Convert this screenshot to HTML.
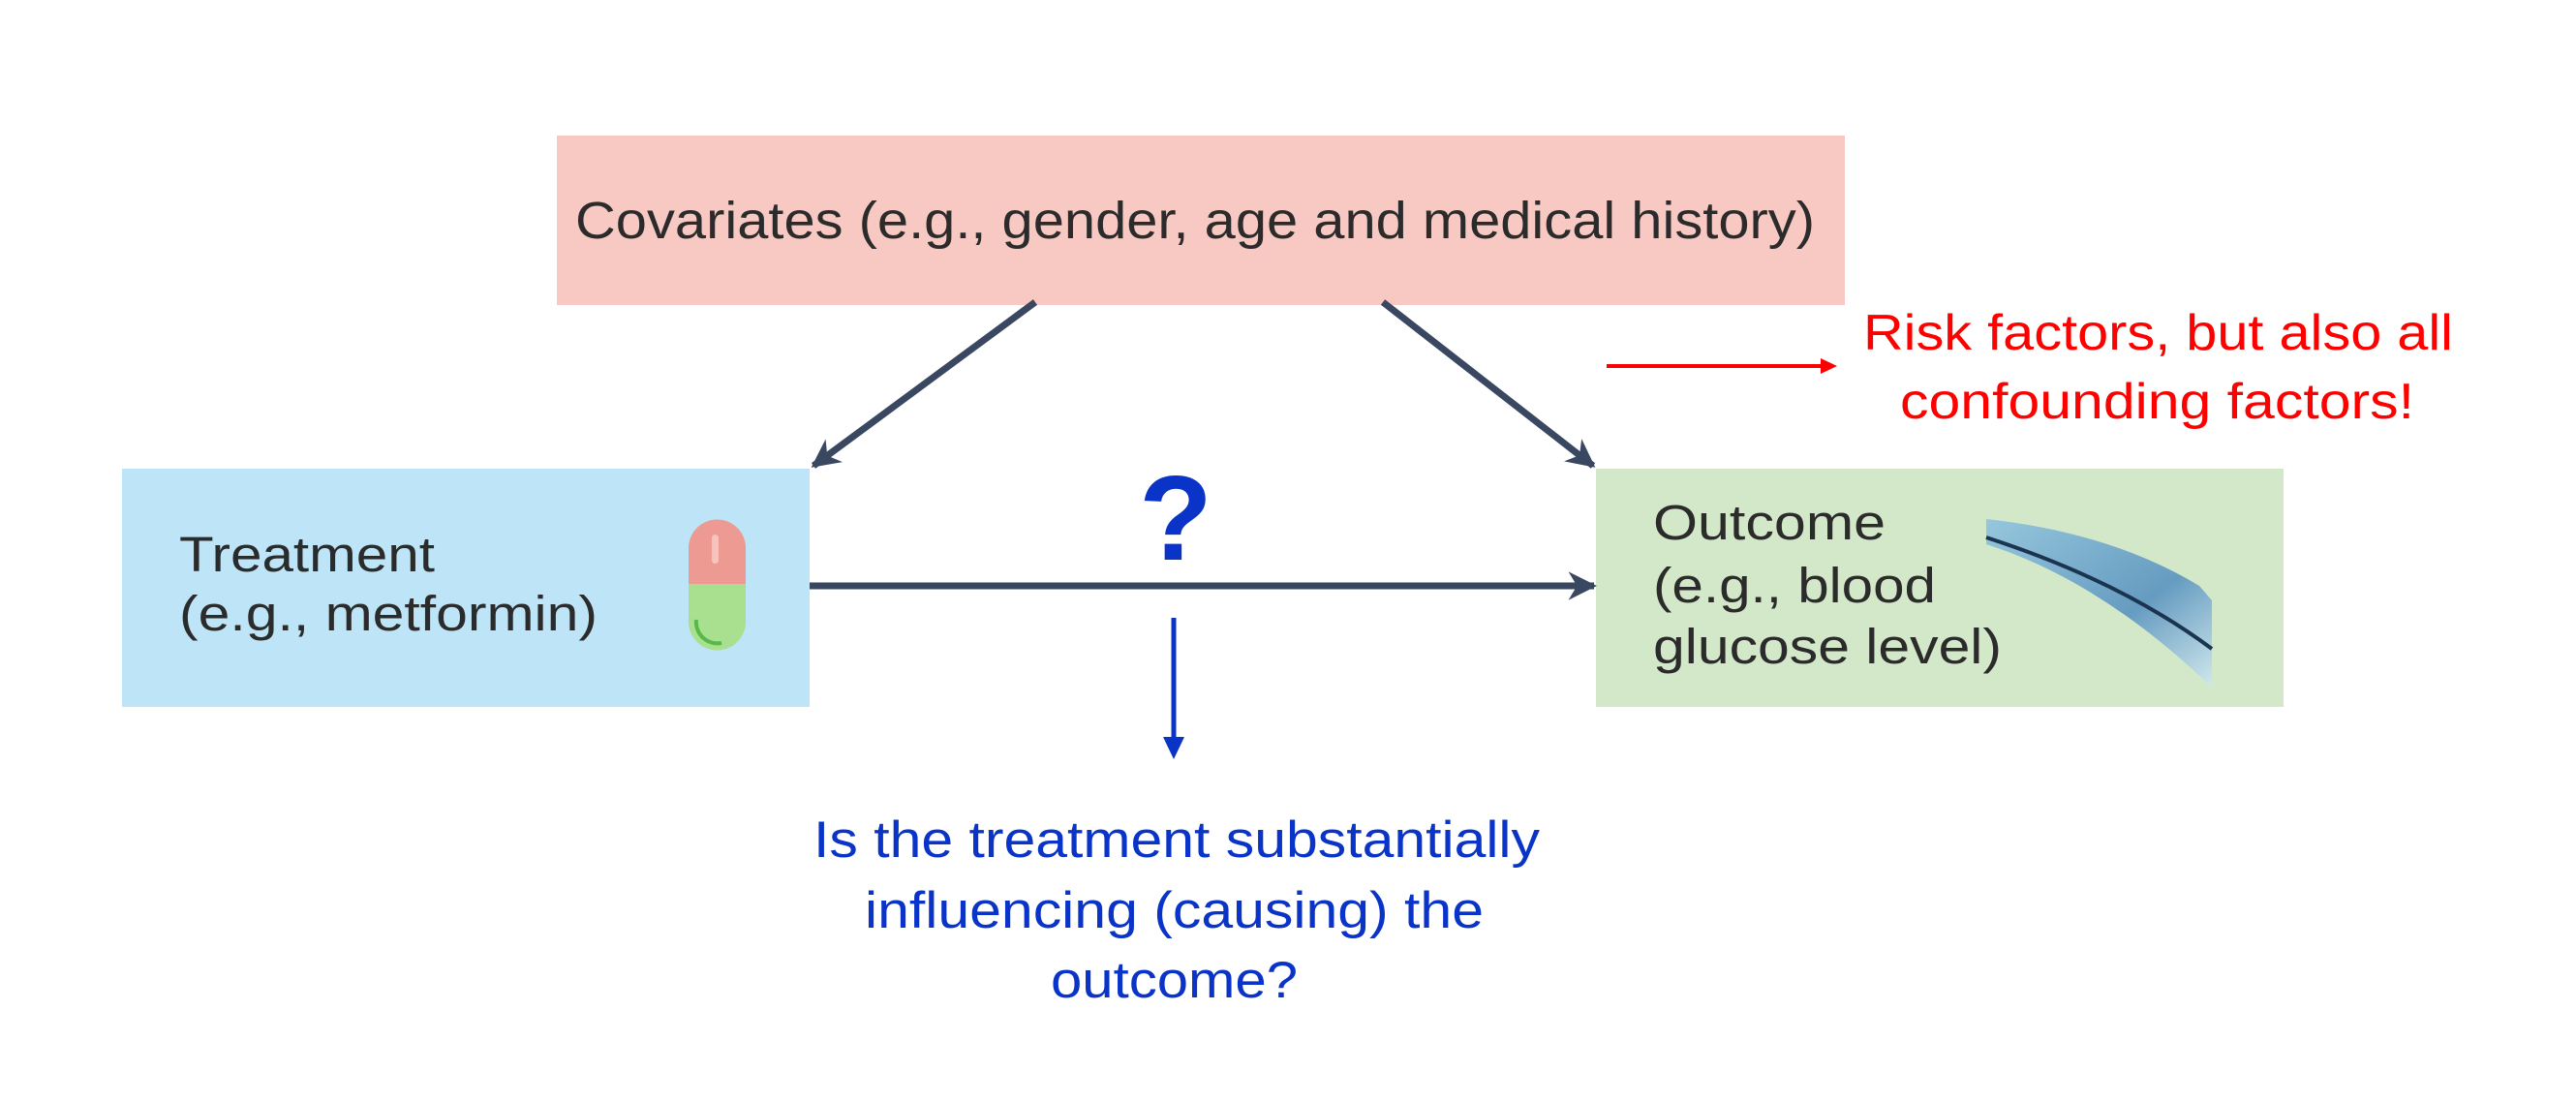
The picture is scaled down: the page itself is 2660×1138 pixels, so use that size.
<!DOCTYPE html>
<html><head><meta charset="utf-8"><style>
html,body{margin:0;padding:0;background:#fff;}
svg{display:block;}
text{font-family:"Liberation Sans",sans-serif;}
</style></head><body>
<svg width="2660" height="1138" viewBox="0 0 2660 1138">
<defs>
<marker id="ah" viewBox="0 0 10 10" refX="9" refY="5" markerWidth="4.2" markerHeight="4.2" orient="auto" markerUnits="strokeWidth"><path d="M0,0 L10,5 L0,10 L3,5 z" fill="#3a4760"/></marker>
<linearGradient id="cg" x1="0" y1="0" x2="1" y2="1"><stop offset="0" stop-color="#8fc3df"/><stop offset="0.6" stop-color="#5a93c0"/><stop offset="1" stop-color="#cfe8f0"/></linearGradient>
</defs>
<rect x="575" y="140" width="1330" height="175" fill="#f8c8c2"/>
<text x="594" y="246" font-size="54" fill="#2b2b2b" textLength="1280" lengthAdjust="spacingAndGlyphs">Covariates (e.g., gender, age and medical history)</text>

<rect x="126" y="484" width="710" height="246" fill="#bde4f7"/>
<text x="185" y="590" font-size="51" fill="#2b2b2b" textLength="264" lengthAdjust="spacingAndGlyphs">Treatment</text>
<text x="185" y="651" font-size="51" fill="#2b2b2b" textLength="432" lengthAdjust="spacingAndGlyphs">(e.g., metformin)</text>
<g>
<path d="M711,603 L711,566 A29.5,29.5 0 0 1 770,566 L770,603 z" fill="#ec9a92"/>
<path d="M711,603 L770,603 L770,642 A29.5,29.5 0 0 1 711,642 z" fill="#a8e08f"/>
<path d="M719,640 A22,22 0 0 0 745,664" stroke="#58b84a" stroke-width="4" fill="none"/>
<rect x="735" y="552" width="7" height="30" rx="3.5" fill="#f6c4bd"/>
</g>

<rect x="1648" y="484" width="710" height="246" fill="#d3e8c8"/>
<text x="1707" y="557" font-size="51" fill="#2b2b2b" textLength="240" lengthAdjust="spacingAndGlyphs">Outcome</text>
<text x="1707" y="622" font-size="51" fill="#2b2b2b" textLength="292" lengthAdjust="spacingAndGlyphs">(e.g., blood</text>
<text x="1707" y="685" font-size="51" fill="#2b2b2b" textLength="360" lengthAdjust="spacingAndGlyphs">glucose level)</text>
<g>
<path d="M2051,536 Q2180,550 2271,605 L2284,620 L2284,710 Q2170,600 2051,562 z" fill="url(#cg)" opacity="0.9"/>
<path d="M2051,555 Q2190,600 2284,670" stroke="#1b3450" stroke-width="4" fill="none"/>
</g>

<line x1="1069" y1="312" x2="840" y2="481" stroke="#3a4760" stroke-width="7" marker-end="url(#ah)"/>
<line x1="1428" y1="312" x2="1645" y2="481" stroke="#3a4760" stroke-width="7" marker-end="url(#ah)"/>
<line x1="836" y1="605" x2="1646" y2="605" stroke="#3a4760" stroke-width="7" marker-end="url(#ah)"/>

<text x="1214" y="578" font-size="124" font-weight="bold" fill="#0a33c8" text-anchor="middle">?</text>

<line x1="1659" y1="378" x2="1880" y2="378" stroke="#ff0000" stroke-width="4"/>
<path d="M1880,370 L1897,378 L1880,386 z" fill="#ff0000"/>
<text x="1924" y="361" font-size="52" fill="#ff0000" textLength="609" lengthAdjust="spacingAndGlyphs">Risk factors, but also all</text>
<text x="1962" y="432" font-size="52" fill="#ff0000" textLength="531" lengthAdjust="spacingAndGlyphs">confounding factors!</text>

<line x1="1212" y1="638" x2="1212" y2="765" stroke="#0a33c8" stroke-width="5"/>
<path d="M1201,761 L1223,761 L1212,784 z" fill="#0a33c8"/>
<text x="840" y="885" font-size="53" fill="#0a33c8" textLength="750" lengthAdjust="spacingAndGlyphs">Is the treatment substantially</text>
<text x="893" y="958" font-size="53" fill="#0a33c8" textLength="639" lengthAdjust="spacingAndGlyphs">influencing  (causing) the</text>
<text x="1085" y="1030" font-size="53" fill="#0a33c8" textLength="255" lengthAdjust="spacingAndGlyphs">outcome?</text>
</svg>
</body></html>
